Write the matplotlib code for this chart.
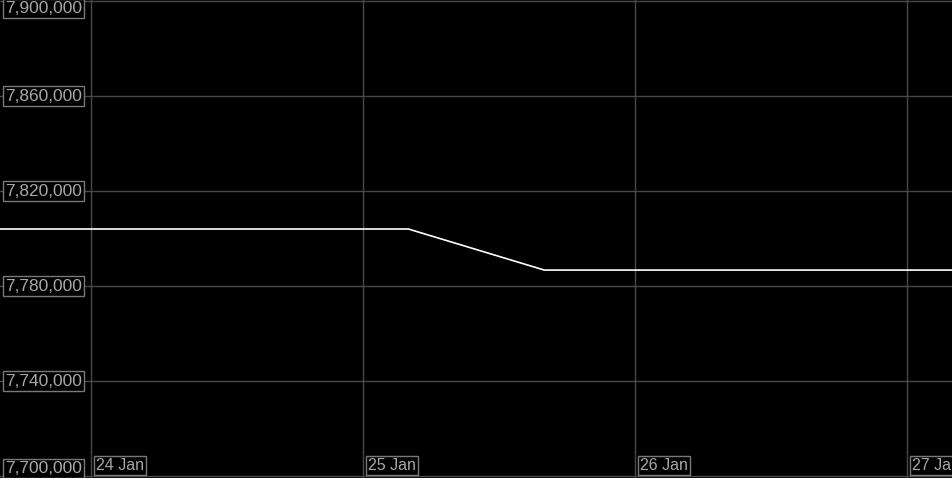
import numpy as np
import matplotlib
matplotlib.use('Agg')
import matplotlib.pyplot as plt
import matplotlib.dates as mdates
from datetime import datetime

# Data
times = [datetime(2024, 1, 23, 16), datetime(2024, 1, 25, 4),
         datetime(2024, 1, 25, 16), datetime(2024, 1, 27, 4)]
values = [7804000, 7804000, 7786700, 7786700]

y_ticks = [7700000, 7740000, 7780000, 7820000, 7860000, 7900000]
x_ticks = [datetime(2024, 1, d) for d in (24, 25, 26, 27)]
x_labels = ['24 Jan', '25 Jan', '26 Jan', '27 Jan']

grid_col = '#4a4a4a'
text_col = '#a8a8a8'
box_col = '#7a7a7a'

fig = plt.figure(figsize=(9.53, 4.78), dpi=100, facecolor='black')
ax = fig.add_axes([0, 0, 1, 1])
ax.set_facecolor('black')

t0 = mdates.date2num(x_ticks[0])
day = 1.0
ax.set_xlim(t0 - 91 / 272 * day, t0 + 862 / 272 * day)
ax.set_ylim(7700000 - 2 / 95 * 40000, 7900000 + 1 / 95 * 40000)

for s in ax.spines.values():
    s.set_visible(False)
ax.set_xticks([])
ax.set_yticks([])

for v in y_ticks:
    ax.axhline(v, color=grid_col, lw=1, zorder=1)
for t in x_ticks:
    ax.axvline(mdates.date2num(t), color=grid_col, lw=1, zorder=1)

ax.plot(mdates.date2num(times), values, color='white', lw=1.2, zorder=3)

# y labels
for v in y_ticks:
    va = 'center'
    if v == y_ticks[-1]:
        va = 'top'
    elif v == y_ticks[0]:
        va = 'bottom'
    ax.annotate(f'{v:,}', xy=(0, v), xycoords=('axes fraction', 'data'),
                xytext=(5, 0), textcoords='offset pixels',
                ha='left', va=va, color=text_col, fontsize=12.5,
                family='Liberation Sans', zorder=4,
                bbox=dict(boxstyle='square,pad=0.12', fc='black', ec=box_col, lw=1))

# x labels
for t, lab in zip(x_ticks, x_labels):
    ax.annotate(lab, xy=(mdates.date2num(t), 0), xycoords=('data', 'axes fraction'),
                xytext=(5, 5), textcoords='offset pixels',
                ha='left', va='bottom', color=text_col, fontsize=11.5,
                family='Liberation Sans', zorder=4,
                bbox=dict(boxstyle='square,pad=0.12', fc='black', ec=box_col, lw=1))

fig.savefig('out.png', dpi=100, facecolor='black')
